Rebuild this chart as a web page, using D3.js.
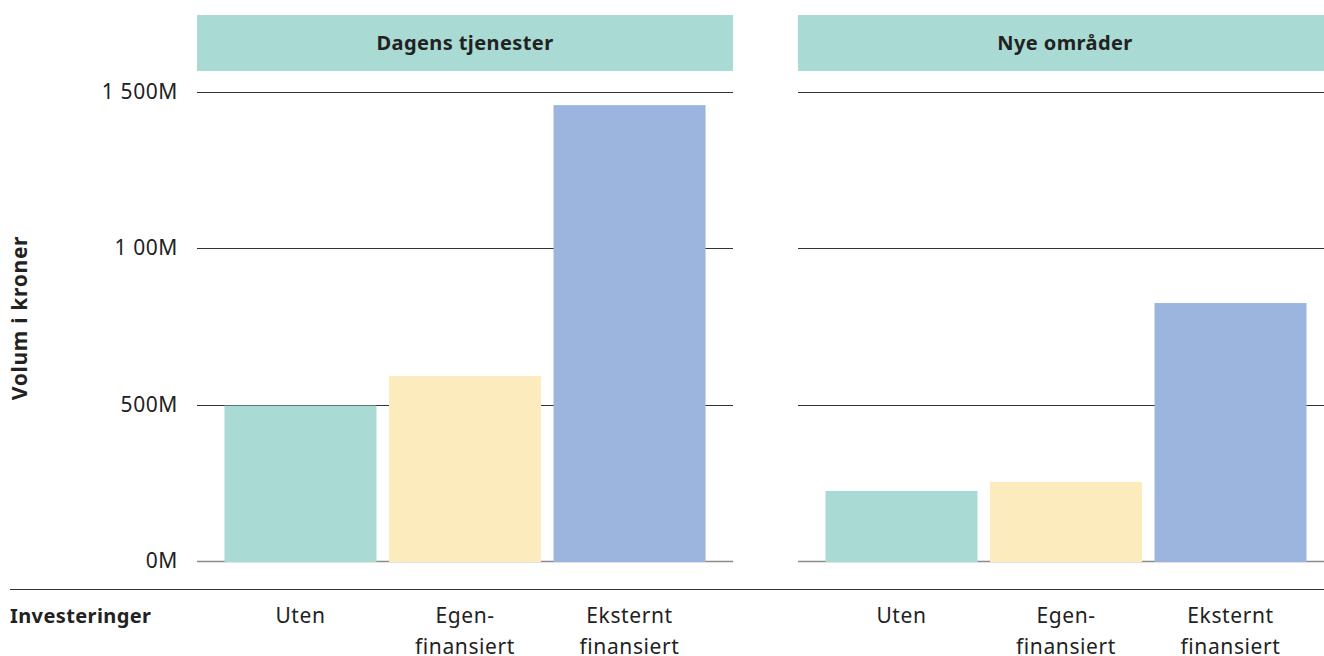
<!DOCTYPE html>
<html>
<head>
<meta charset="utf-8">
<script src="https://cdn.jsdelivr.net/npm/d3@7"></script>
<style>
  body { margin: 0; background: #fff; }
  svg { display: block; font-family: "Noto Sans", "Open Sans", sans-serif; }
</style>
</head>
<body>
<svg id="chart" width="1324" height="656"></svg>
<script>
// data
const panels = ["Dagens tjenester", "Nye områder"];
const categories = ["Uten", "Egen-\nfinansiert", "Eksternt\nfinansiert"];
const dagensValues = [497, 592, 1458];
const nyeValues = [224, 253, 825];
const tickValues = [0, 500, 1000, 1500];
const tickLabels = ["0M", "500M", "1 00M", "1 500M"];
const colors = ["#a9dad3", "#fcecbd", "#9bb5de"];

const svg = d3.select("#chart");

const y = d3.scaleLinear()
  .domain([0, 1500])
  .range([561, 92]);

const panelX = [197, 798];
const panelW = 536;
const seriesByPanel = [dagensValues, nyeValues];

panels.forEach(function(name, i) {
  const x0 = panelX[i];
  const x = d3.scaleBand()
    .domain(categories)
    .range([x0, x0 + panelW])
    .paddingInner(0.076)
    .paddingOuter(0.167);

  const g = svg.append("g");

  // header strip
  g.append("rect")
    .attr("x", x0)
    .attr("y", 15)
    .attr("width", Math.min(panelW, 1324 - x0))
    .attr("height", 56)
    .attr("fill", "#a9dad3");
  g.append("text")
    .attr("x", x0 + (i == 0 ? panelW / 2 : (1324 - x0) / 2 + 4))
    .attr("y", 50)
    .attr("text-anchor", "middle")
    .attr("font-size", 20)
    .attr("letter-spacing", 0.4)
    .attr("font-weight", "bold")
    .attr("fill", "#222")
    .text(name);

  // gridlines
  g.selectAll(".grid")
    .data(tickValues)
    .join("line")
    .attr("x1", x0)
    .attr("x2", x0 + panelW)
    .attr("y1", d => Math.round(y(d)) + 0.5)
    .attr("y2", d => Math.round(y(d)) + 0.5)
    .attr("stroke", d => d == 0 ? "#8a8a8a" : "#333")
    .attr("stroke-width", d => d == 0 ? 1.5 : 1);

  // bars
  g.selectAll(".bar")
    .data(seriesByPanel[i])
    .join("rect")
    .attr("x", (d, j) => x(categories[j]))
    .attr("width", x.bandwidth())
    .attr("y", d => y(d))
    .attr("height", d => y(0) - y(d) + 1)
    .attr("fill", (d, j) => colors[j]);

  // category labels
  categories.forEach(function(c) {
    const t = g.append("text")
      .attr("text-anchor", "middle")
      .attr("font-size", 21)
      .attr("letter-spacing", 0.6)
      .attr("fill", "#222");
    c.split("\n").forEach(function(line, k) {
      t.append("tspan")
        .attr("x", x(c) + x.bandwidth() / 2)
        .attr("y", 623 + k * 31)
        .text(line);
    });
  });
});

// y tick labels
svg.selectAll(".tick")
  .data(tickValues)
  .join("text")
  .attr("x", 178)
  .attr("y", d => y(d) + 7)
  .attr("text-anchor", "end")
  .attr("font-size", 21)
  .attr("letter-spacing", 0.6)
  .attr("fill", "#222")
  .text((d, i) => tickLabels[i]);

// y axis title
svg.append("text")
  .attr("transform", "translate(27,318) rotate(-90)")
  .attr("text-anchor", "middle")
  .attr("font-size", 21)
  .attr("letter-spacing", 0.7)
  .attr("font-weight", "bold")
  .attr("fill", "#222")
  .text("Volum i kroner");

// bottom divider
svg.append("line")
  .attr("x1", 10)
  .attr("x2", 1324)
  .attr("y1", 589.5)
  .attr("y2", 589.5)
  .attr("stroke", "#333")
  .attr("stroke-width", 1);

svg.append("text")
  .attr("x", 10)
  .attr("y", 623)
  .attr("font-size", 20)
  .attr("letter-spacing", 0.4)
  .attr("font-weight", "bold")
  .attr("fill", "#222")
  .text("Investeringer");
</script>
</body>
</html>
